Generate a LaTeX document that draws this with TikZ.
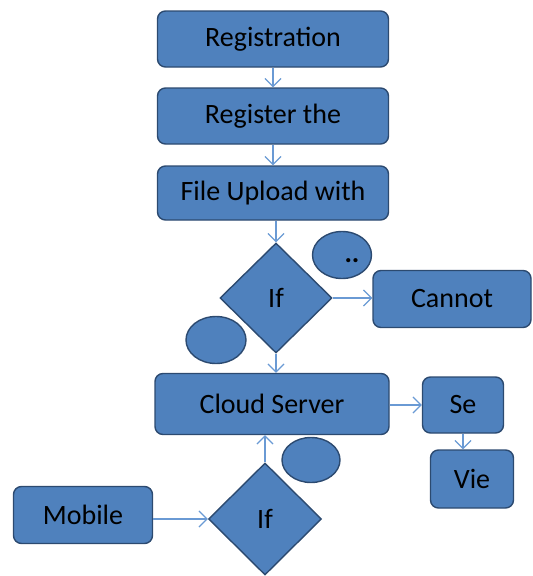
\documentclass[tikz,border=0pt]{standalone}
\usepackage{fontspec}
\setmainfont{Carlito}
\usetikzlibrary{shapes.geometric,arrows.meta}
\definecolor{boxfill}{HTML}{4F81BD}
\definecolor{boxline}{HTML}{2C4A70}
\definecolor{arrowc}{HTML}{6A9AD4}
\tikzset{
  base/.style={fill=boxfill, draw=boxline, line width=1.4pt, text=black, inner sep=0pt, font=\fontsize{28}{32}\selectfont},
  rbox/.style={base, rectangle, rounded corners=8pt},
  dec/.style={base, diamond},
  oval/.style={base, ellipse},
  conn/.style={draw=arrowc, line width=1.2pt, -{Straight Barb[length=8pt,width=16pt,line width=1.2pt]}}
}
\begin{document}
\begin{tikzpicture}[x=1pt,y=-1pt]
\useasboundingbox (0,0) rectangle (533,576);
\node[rbox, minimum width=231pt, minimum height=56pt] (reg) at (273,39) {Registration};
\node[rbox, minimum width=231pt, minimum height=56pt] (regthe) at (273,116) {Register the};
\node[rbox, minimum width=231pt, minimum height=54pt] (upload) at (273,193) {File Upload with};
\node[dec, minimum width=112pt, minimum height=110pt] (if1) at (276,298) {If};
\node[oval, minimum width=59pt, minimum height=47pt] (ell1) at (342,255) {\hspace*{20pt}\smash{\raisebox{-7pt}{\textbf{..}}}};
\node[rbox, minimum width=158pt, minimum height=57pt] (cannot) at (452,299) {Cannot};
\node[oval, minimum width=60pt, minimum height=47pt] (ell2) at (216,340) {};
\node[rbox, minimum width=234pt, minimum height=61pt] (cloud) at (272,404) {Cloud Server};
\node[rbox, minimum width=81pt, minimum height=56pt] (se) at (463,405) {Se};
\node[rbox, minimum width=83pt, minimum height=58pt] (vie) at (472,479) {Vie};
\node[oval, minimum width=58pt, minimum height=45pt] (ell3) at (311,460) {};
\node[dec, minimum width=113pt, minimum height=112pt] (if2) at (265,519) {If};
\node[rbox, minimum width=139pt, minimum height=57pt] (mobile) at (83,515) {Mobile};
\draw[conn] (reg.south) -- (regthe.north);
\draw[conn] (regthe.south) -- (upload.north);
\draw[conn] (if1.north |- upload.south) -- (if1.north);
\draw[conn] (if1.east) -- (cannot.west |- if1.east);
\draw[conn] (if1.south) -- (if1.south |- cloud.north);
\draw[conn] (cloud.east |- se.west) -- (se.west);
\draw[conn] (se.south) -- (se.south |- vie.north);
\draw[conn] (if2.north) -- (if2.north |- cloud.south);
\draw[conn] (mobile.east |- if2.west) -- (if2.west);
\end{tikzpicture}
\end{document}
